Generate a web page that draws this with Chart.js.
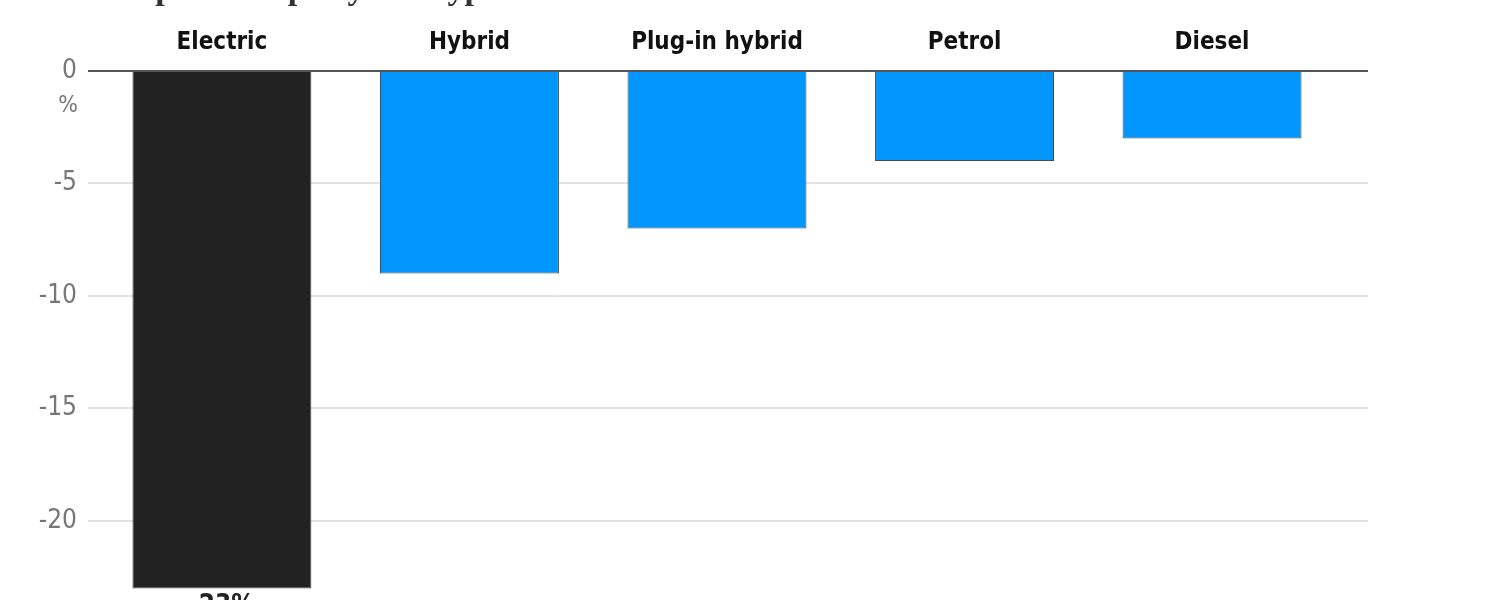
<!DOCTYPE html>
<html>
<head>
<meta charset="utf-8">
<script src="https://cdn.jsdelivr.net/npm/chart.js@4"></script>
<style>
  html, body { margin: 0; padding: 0; background: #fff; overflow: hidden; }
  #wrap { position: relative; width: 1500px; height: 660px; }
  #title {
    position: absolute; top: -31px; left: 20px;
    font-family: "Liberation Serif", "DejaVu Serif", serif;
    font-size: 34px; font-weight: bold; color: #333; white-space: nowrap;
  }
</style>
</head>
<body>
<div id="wrap">
  <div id="title">Used car price drops by fuel type</div>
  <canvas id="priceDropChart" width="1500" height="660"></canvas>
</div>
<script>
/* chart data */
const fuelTypes = ["Electric", "Hybrid", "Plug-in hybrid", "Petrol", "Diesel"];
const priceChange = [-23, -9, -7, -4, -3];
const yTicks = [0, -5, -10, -15, -20, -25];
const highlightType = "Electric";

const LABEL_FONT = "'Liberation Sans Narrow', 'DejaVu Sans Condensed', 'Roboto', sans-serif";

// "%" under the zero tick and the value label under the highlighted bar
const extrasPlugin = {
  id: "extras",
  afterDraw(chart) {
    const ctx = chart.ctx;
    const y = chart.scales.y;
    const x = chart.scales.x;
    ctx.save();
    ctx.font = "23px " + LABEL_FONT;
    ctx.fillStyle = "#777";
    ctx.textAlign = "center";
    ctx.textBaseline = "middle";
    ctx.fillText("%", 68, y.getPixelForValue(0) + 35);

    const i = fuelTypes.indexOf(highlightType);
    ctx.font = "bold 26px " + LABEL_FONT;
    ctx.fillStyle = "#222";
    ctx.textBaseline = "top";
    ctx.fillText(priceChange[i] + "%", x.getPixelForValue(i), y.getPixelForValue(priceChange[i]) + 5);
    ctx.restore();
  },
};

const config = {
  type: "bar",
  data: {
    datasets: [
      {
        data: priceChange.map((v, i) => ({ x: i, y: v })),
        backgroundColor: fuelTypes.map((t) => (t === highlightType ? "#222222" : "#0096fe")),
        borderColor: "#4a4a4a",
        borderWidth: 1,
        categoryPercentage: 1,
        barPercentage: 0.723,
      },
    ],
  },
  options: {
    responsive: false,
    animation: false,
    layout: { padding: { right: 132, bottom: 6 } },
    plugins: { legend: { display: false }, tooltip: { enabled: false } },
    scales: {
      x: {
        type: "linear",
        position: "top",
        offset: false,
        min: -0.541,
        max: 4.63,
        grid: { display: false, offset: false },
        border: { display: false },
        afterBuildTicks: (axis) => {
          axis.ticks = fuelTypes.map((t, i) => ({ value: i }));
        },
        afterFit: (axis) => {
          axis.height = 71;
        },
        ticks: {
          autoSkip: false,
          maxRotation: 0,
          padding: 6,
          color: "#111",
          font: { family: LABEL_FONT, size: 24, weight: "bold" },
          callback: (v) => fuelTypes[v],
        },
      },
      y: {
        min: -25,
        max: 0,
        afterBuildTicks: (axis) => {
          axis.ticks = yTicks.map((v) => ({ value: v }));
        },
        afterFit: (axis) => {
          axis.width = 88;
        },
        border: { display: false },
        grid: {
          drawTicks: false,
          lineWidth: 2,
          color: (c) => (c.tick && c.tick.value === 0 ? "#555" : "#e3e3e3"),
        },
        ticks: {
          padding: 11,
          color: "#777",
          font: { family: LABEL_FONT, size: 26 },
        },
      },
    },
  },
  plugins: [extrasPlugin],
};

new Chart(document.getElementById("priceDropChart"), config);
</script>
</body>
</html>
